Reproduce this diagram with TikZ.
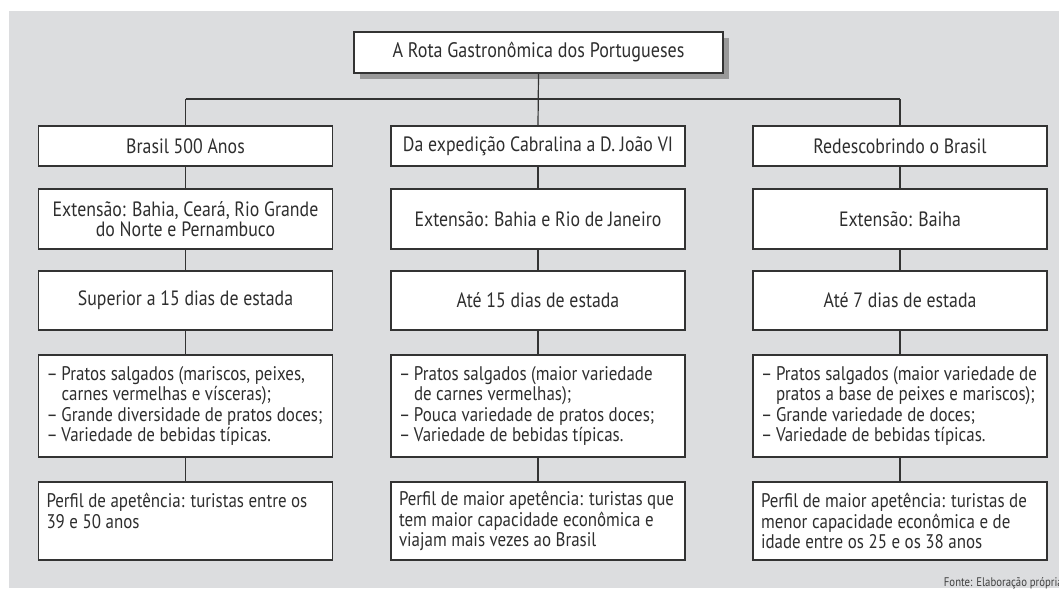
\documentclass[tikz,border=0pt]{standalone}
\usepackage{fontspec}
\setmainfont{PT Sans}[FakeStretch=0.86]
\newcommand{\itm}[1]{\mbox{\makebox[15pt][l]{–}#1}}
\newcommand{\cnt}[1]{\mbox{\hspace*{15pt}#1}}
\newcommand{\myln}[1]{\mbox{#1}}
\newcommand{\ns}{\spaceskip=0pt\xspaceskip=0pt\relax}
\begin{document}
\begin{tikzpicture}[x=1pt,y=-1pt,
  box/.style={draw=black!80,line width=1.2pt,fill=white,text=black!82,
    inner sep=0pt,minimum width=294pt},
  lbox/.style={box,font=\fontsize{19.7}{20.5}\selectfont,text width=278pt,align=left,inner xsep=8pt},
  cbox/.style={box,font=\fontsize{20.7}{20.5}\selectfont,align=center},
  conn/.style={draw=black!80,line width=1.2pt}]
\useasboundingbox (0,0) rectangle (1059,589);
\fill[fill={rgb,255:red,220;green,221;blue,223}] (9,11) rectangle (1059,588);
% title
\fill[black!40] (360,38) rectangle (729,79);
\node[cbox,minimum width=369pt,minimum height=41pt,font=\fontsize{21}{20.5}\selectfont] (t) at (538.5,52.5) {\ns A Rota Gastronômica dos Portugueses};
% column headers
\node[cbox,minimum height=40pt] (a1) at (185.5,146) {\ns Brasil 500 Anos};
\node[cbox,minimum height=40pt] (b1) at (538,146) {\ns Da expedição Cabralina a D. João VI};
\node[cbox,minimum height=40pt] (c1) at (900,146) {\ns Redescobrindo o Brasil};
% row 2
\node[cbox,minimum height=60pt] (a2) at (185.5,219) {\ns Extensão: Bahia, Ceará, Rio Grande\\do Norte e Pernambuco};
\node[cbox,minimum height=60pt] (b2) at (538,219) {\ns Extensão: Bahia e Rio de Janeiro};
\node[cbox,minimum height=60pt] (c2) at (900,219) {\ns Extensão: Baiha};
% row 3
\node[cbox,minimum height=59pt] (a3) at (185.5,300.5) {\ns Superior a 15 dias de estada};
\node[cbox,minimum height=59pt] (b3) at (538,300.5) {\ns Até 15 dias de estada};
\node[cbox,minimum height=59pt] (c3) at (900,300.5) {\ns Até 7 dias de estada};
% row 4
\node[lbox,minimum height=102pt] (a4) at (185.5,406) {\ns\itm{Pratos salgados (mariscos, peixes,}\\\cnt{carnes vermelhas e vísceras);}\\\itm{Grande diversidade de pratos doces;}\\\itm{Variedade de bebidas típicas.}};
\node[lbox,minimum height=102pt] (b4) at (538,406) {\ns\itm{Pratos salgados (maior variedade}\\\cnt{de carnes vermelhas);}\\\itm{Pouca variedade de pratos doces;}\\\itm{Variedade de bebidas típicas.}};
\node[lbox,minimum height=102pt] (c4) at (900,406) {\ns\itm{Pratos salgados (maior variedade de}\\\cnt{pratos a base de peixes e mariscos);}\\\itm{Grande variedade de doces;}\\\itm{Variedade de bebidas típicas.}};
% row 5
\node[lbox,minimum height=78pt] (a5) at (185.5,521) {\ns\myln{Perfil de apetência: turistas entre os}\\\myln{39 e 50 anos}\\\mbox{}};
\node[lbox,minimum height=78pt] (b5) at (538,521) {\ns\myln{Perfil de maior apetência: turistas que}\\\myln{tem maior capacidade econômica e}\\\myln{viajam mais vezes ao Brasil}};
\node[lbox,minimum height=78pt] (c5) at (900,521) {\ns\myln{Perfil de maior apetência: turistas de}\\\myln{menor capacidade econômica e de}\\\myln{idade entre os 25 e os 38 anos}};
% connectors
\coordinate (busL) at (185.5,99);
\coordinate (busR) at (900,99);
\draw[conn] (t.south) -- (b1.north);
\draw[conn] (busL) -- (busR);
\draw[conn] (busL) -- (a1.north);
\draw[conn] (busR) -- (c1.north);
\foreach \c in {a,b,c}{
  \draw[conn] (\c1) -- (\c2);
  \draw[conn] (\c2) -- (\c3);
  \draw[conn] (\c3) -- (\c4);
  \draw[conn] (\c4) -- (\c5);
}
\node[anchor=base east,text=black!75,font=\fontsize{12.5}{13}\selectfont,inner sep=0pt] (src) at (1063,586) {Fonte: Elaboração própria};
\end{tikzpicture}
\end{document}
